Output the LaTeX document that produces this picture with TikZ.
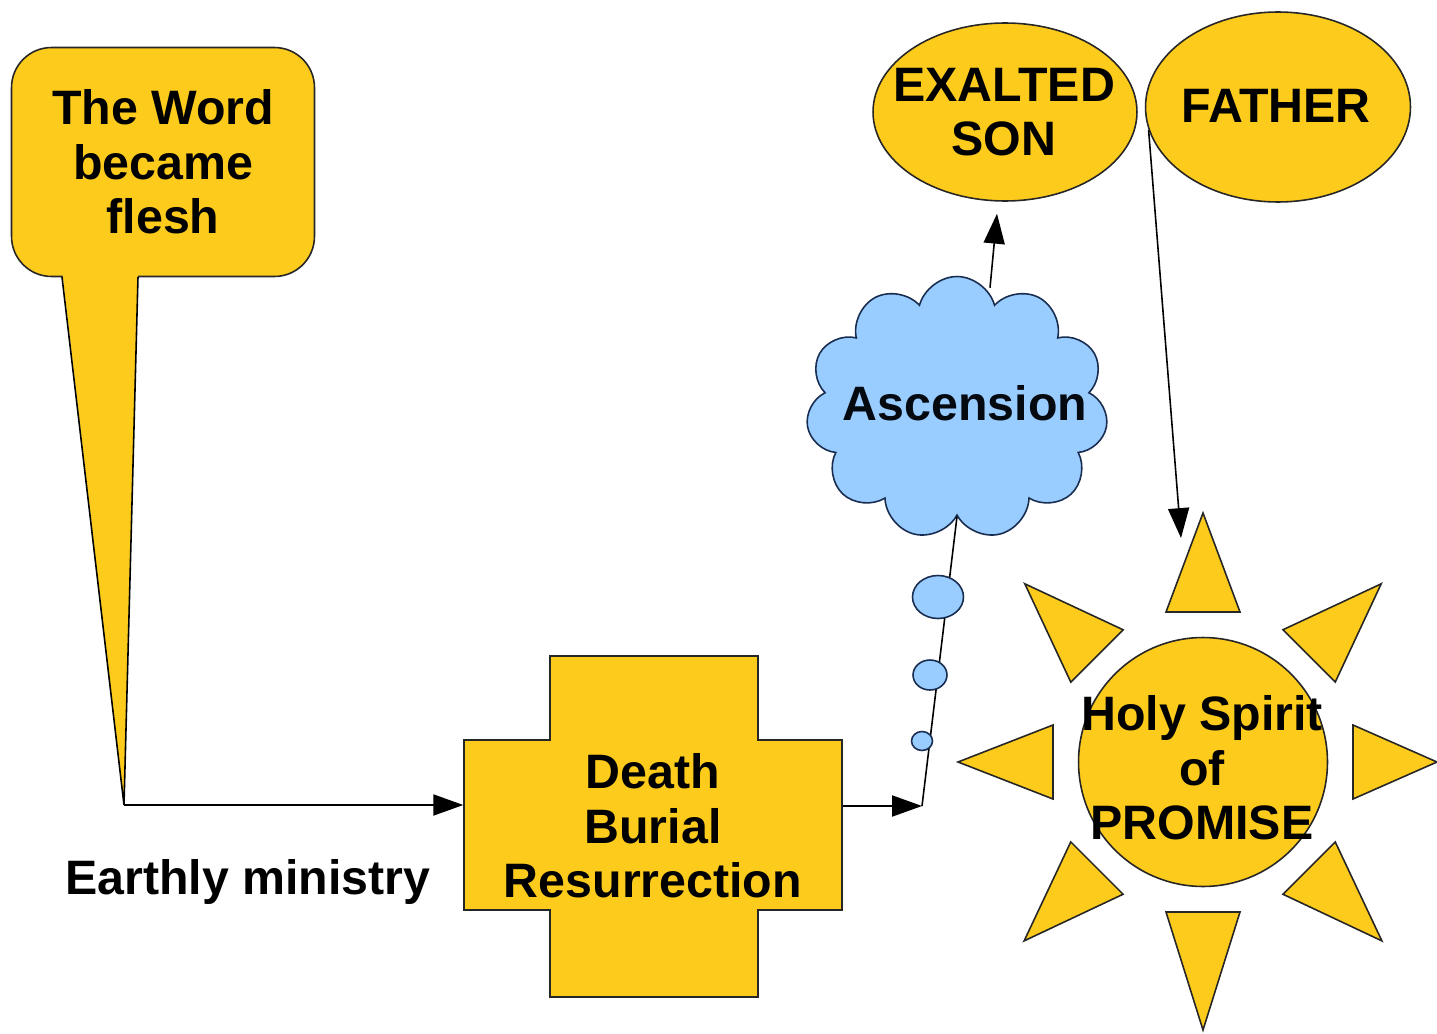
\documentclass[tikz,border=0pt]{standalone}
\usepackage{fontspec}
\setmainfont{Liberation Sans}
\usepackage{tikz}
\usetikzlibrary{arrows.meta,shapes.geometric,shapes.symbols,calc}

\definecolor{gold}{RGB}{253,203,28}
\definecolor{sky}{RGB}{153,204,255}
\definecolor{navy}{RGB}{25,45,80}

\begin{document}
\begin{tikzpicture}[x=0.02cm,y=-0.02cm,>={Triangle[length=17pt,width=12pt]},line width=0.9pt,
  every node/.style={font=\fontsize{27.5}{31}\selectfont\bfseries,align=center,inner sep=0pt},
  yel/.style={draw=black!85,fill=gold},
  puff/.style={ellipse,draw=navy,fill=sky}]

\useasboundingbox (0,0) rectangle (1437,1034);

% callout box and its pointer
\coordinate (tip) at (124,805);
\node[yel,rounded corners=0.8cm,minimum width=6.06cm,minimum height=4.58cm] (word) at (163,162) {The Word\\became\\flesh};
\fill[gold] (62,270) -- (tip) -- (138,270) -- cycle;
\draw (62,277) -- (tip) -- (138,277);

% cross
\draw[yel] (550,656) -- (758,656) -- (758,740) -- (842,740) -- (842,910) -- (758,910)
  -- (758,997) -- (550,997) -- (550,910) -- (464,910) -- (464,740) -- (550,740) -- cycle;
\node[minimum width=7.56cm,minimum height=3.4cm] (cross) at (653,826) {Death\\Burial\\Resurrection};
\node (ministry) at (248,882) {Earthly ministry};

% top
\node[yel,ellipse,minimum width=5.28cm,minimum height=3.56cm] (son) at (1005,112) {};
\node at (1004,112) {EXALTED\\SON};
\node[yel,ellipse,minimum width=5.3cm,minimum height=3.8cm] (father) at (1278,107) {};
\node at (1276,106) {FATHER};

% cloud and its tail
\node[cloud,cloud puffs=11,aspect=1.15,draw=navy,fill=sky,minimum width=6.04cm,minimum height=5.26cm] (cloud) at (957,408) {};
\node[text=black!80!navy] at (965,403) {Ascension};
\coordinate (tail) at (922,806);
\draw (tail) -- (cloud.south);
\foreach \name/\x/\y/\w/\h in {b1/938/597/1.02/0.86, b2/930/675/0.68/0.6, b3/922/741/0.42/0.38}
  \node[puff,minimum width=\w cm,minimum height=\h cm] (\name) at (\x,\y) {};

% sun
\node[yel,circle,minimum size=4.98cm] (sun) at (1203,762) {};
\node at (1202,768) {Holy Spirit\\of\\PROMISE};
\foreach \a/\r in {0/234, 45/253, 90/268, 135/253, 180/245, 225/252, 270/249, 315/252}
  \draw[yel] ($(sun.center)+(\a:\r)$) -- ($(sun.center)+(\a:150)+(\a+90:37)$) -- ($(sun.center)+(\a:150)+(\a-90:37)$) -- cycle;
\coordinate (ray) at (1181,538);

% arrows
\draw[->] (tip) -- (tip -| cross.west);
\draw[->] (tail -| cross.east) -- (tail);
\draw[->] ($(cloud.north)+(33,12)$) -- ($(son.south)+(-8,12)$);
\draw[->] (father.190) -- (ray);

\end{tikzpicture}
\end{document}
